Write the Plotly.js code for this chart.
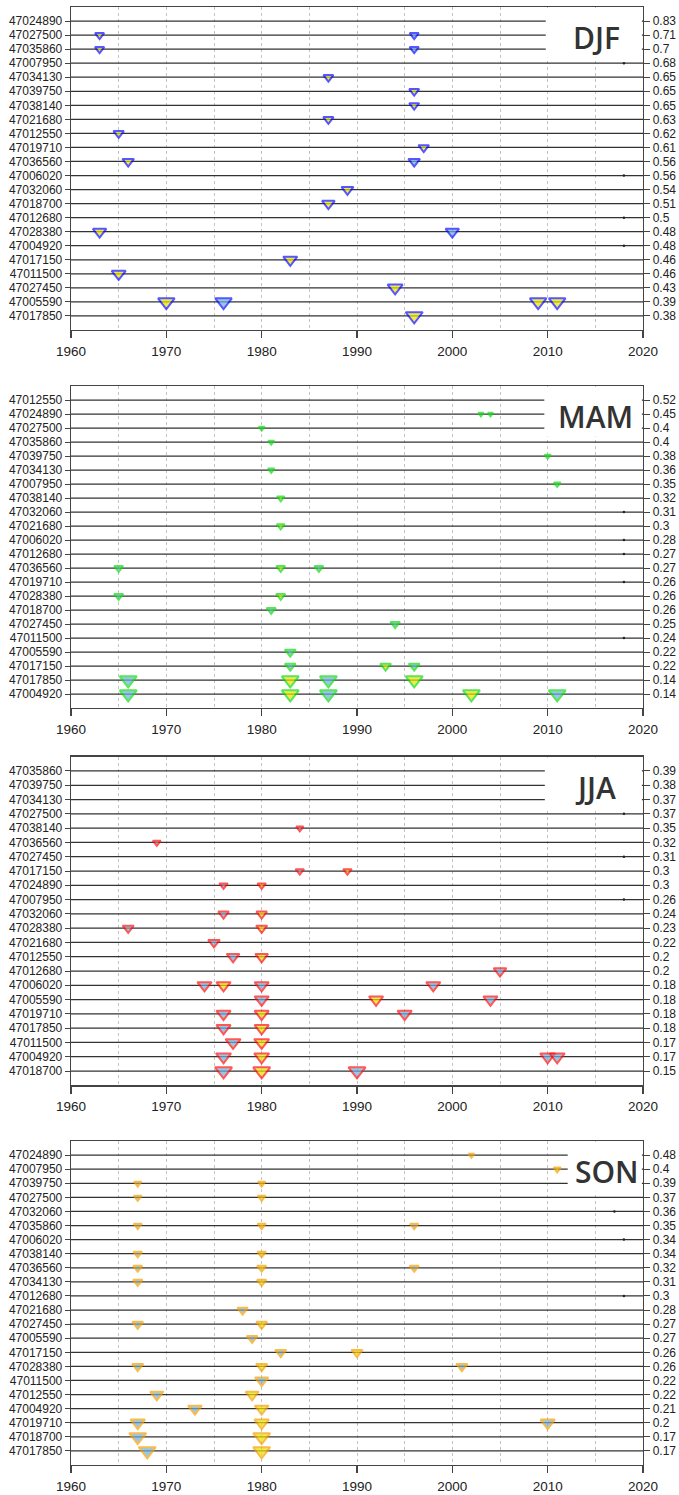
<!DOCTYPE html>
<html><head><meta charset="utf-8">
<script src="https://cdn.plot.ly/plotly-3.0.1.min.js"></script>
<style>html,body{margin:0;padding:0;background:#fff}#chart{width:679px;height:1495px}</style>
</head><body><div id="chart"></div>
<script>
// ---------------- DATA ----------------
const seasonNames = ['DJF', 'MAM', 'JJA', 'SON'];

// DJF
const djfStations = ['47024890','47027500','47035860','47007950','47034130','47039750','47038140','47021680','47012550','47019710','47036560','47006020','47032060','47018700','47012680','47028380','47004920','47017150','47011500','47027450','47005590','47017850'];
const djfValues = [0.83,0.71,0.7,0.68,0.65,0.65,0.65,0.63,0.62,0.61,0.56,0.56,0.54,0.51,0.5,0.48,0.48,0.46,0.46,0.43,0.39,0.38];
const djfBreakYears = [[],[1963,1996],[1963,1996],[],[1987],[1996],[1996],[1987],[1965],[1997],[1966,1996],[],[1989],[1987],[],[1963,2000],[],[1983],[1965],[1994],[1970,1976,2009,2011],[1996]];
const djfBreakTypes = [[],['u','d'],['u','d'],[],['u'],['u'],['u'],['u'],['u'],['u'],['u','d'],[],['u'],['u'],[],['u','d'],[],['u'],['u'],['u'],['u','d','u','u'],['u']];
const djfDotStations = ['47007950','47006020','47012680','47004920'];
const djfDotYears = [2018,2018,2018,2018];

// MAM
const mamStations = ['47012550','47024890','47027500','47035860','47039750','47034130','47007950','47038140','47032060','47021680','47006020','47012680','47036560','47019710','47028380','47018700','47027450','47011500','47005590','47017150','47017850','47004920'];
const mamValues = [0.52,0.45,0.4,0.4,0.38,0.36,0.35,0.32,0.31,0.3,0.28,0.27,0.27,0.26,0.26,0.26,0.25,0.24,0.22,0.22,0.14,0.14];
const mamBreakYears = [[],[2003,2004],[1980],[1981],[2010],[1981],[2011],[1982],[],[1982],[],[],[1965,1982,1986],[],[1965,1982],[1981],[1994],[],[1983],[1983,1993,1996],[1966,1983,1987,1996],[1966,1983,1987,2002,2011]];
const mamBreakTypes = [[],['d','d'],['d'],['d'],['d'],['d'],['d'],['u'],[],['u'],[],[],['d','u','d'],[],['d','u'],['d'],['d'],[],['d'],['d','u','d'],['d','u','d','u'],['d','u','d','u','d']];
const mamDotStations = ['47032060','47006020','47012680','47019710','47011500'];
const mamDotYears = [2018,2018,2018,2018,2018];

// JJA
const jjaStations = ['47035860','47039750','47034130','47027500','47038140','47036560','47027450','47017150','47024890','47007950','47032060','47028380','47021680','47012550','47012680','47006020','47005590','47019710','47017850','47011500','47004920','47018700'];
const jjaValues = [0.39,0.38,0.37,0.37,0.35,0.32,0.31,0.3,0.3,0.26,0.24,0.23,0.22,0.2,0.2,0.18,0.18,0.18,0.18,0.17,0.17,0.15];
const jjaBreakYears = [[],[],[],[],[1984],[1969],[],[1984,1989],[1976,1980],[],[1976,1980],[1966,1980],[1975],[1977,1980],[2005],[1974,1976,1980,1998],[1980,1992,2004],[1976,1980,1995],[1976,1980],[1977,1980],[1976,1980,2010,2011],[1976,1980,1990]];
const jjaBreakTypes = [[],[],[],[],['d'],['d'],[],['d','u'],['d','u'],[],['d','u'],['d','u'],['d'],['d','u'],['d'],['d','u','d','d'],['d','u','d'],['d','u','d'],['d','u'],['d','u'],['d','u','d','d'],['d','u','d']];
const jjaDotStations = ['47027500','47027450','47007950'];
const jjaDotYears = [2018,2018,2018];

// SON
const sonStations = ['47024890','47007950','47039750','47027500','47032060','47035860','47006020','47038140','47036560','47034130','47012680','47021680','47027450','47005590','47017150','47028380','47011500','47012550','47004920','47019710','47018700','47017850'];
const sonValues = [0.48,0.4,0.39,0.37,0.36,0.35,0.34,0.34,0.32,0.31,0.3,0.28,0.27,0.27,0.26,0.26,0.22,0.22,0.21,0.2,0.17,0.17];
const sonBreakYears = [[2002],[2011],[1967,1980],[1967,1980],[],[1967,1980,1996],[],[1967,1980],[1967,1980,1996],[1967,1980],[],[1978],[1967,1980],[1979],[1982,1990],[1967,1980,2001],[1980],[1969,1979],[1973,1980],[1967,1980,2010],[1967,1980],[1968,1980]];
const sonBreakTypes = [['d'],['u'],['d','u'],['d','u'],[],['d','u','d'],[],['d','u'],['d','u','d'],['d','u'],[],['d'],['d','u'],['d'],['d','u'],['d','u','d'],['d'],['d','u'],['d','u'],['d','u','d'],['d','u'],['d','u']];
const sonDotStations = ['47032060','47006020','47012680'];
const sonDotYears = [2017,2018,2018];

// ---------------- STYLE / LAYOUT ----------------
const panels = [
  {st: djfStations, val: djfValues, yrs: djfBreakYears, typ: djfBreakTypes, dSt: djfDotStations, dYr: djfDotYears},
  {st: mamStations, val: mamValues, yrs: mamBreakYears, typ: mamBreakTypes, dSt: mamDotStations, dYr: mamDotYears},
  {st: jjaStations, val: jjaValues, yrs: jjaBreakYears, typ: jjaBreakTypes, dSt: jjaDotStations, dYr: jjaDotYears},
  {st: sonStations, val: sonValues, yrs: sonBreakYears, typ: sonBreakTypes, dSt: sonDotStations, dYr: sonDotYears}
];
const edgeColors = ['#1010ff', '#10dd10', '#ff1010', '#f7a000'];
const fillUp = '#ebe300', fillDown = '#6cb0e0';
const W = 679, H = 1495, mt = 7, mb = 30, ml = 71, mr = 36;
const ph = H - mt - mb;
const topPx = [7, 386, 756.7, 1141];
const botPx = [330, 708, 1085.3, 1465];
const boxX0 = [2009.8, 2009.65, 2009.7, 2012.1];
const tickFont = {family: 'Liberation Sans, Arial, sans-serif', size: 12, color: '#222'};
const axisCol = '#444';

const traces = [];
const layout = {
  width: W, height: H, margin: {l: ml, r: mr, t: mt, b: mb},
  showlegend: false, paper_bgcolor: '#fff', plot_bgcolor: '#fff',
  shapes: [], annotations: []
};

panels.forEach((p, k) => {
  const n = p.st.length;
  const rows = p.st.map((_, i) => i + 1);
  const xa = 'x' + (k + 1), ya = 'y' + (2 * k + 1), yb = 'y' + (2 * k + 2);
  const xk = 'xaxis' + (k + 1), yak = 'yaxis' + (2 * k + 1), ybk = 'yaxis' + (2 * k + 2);
  const dom = [(H - mb - botPx[k]) / ph, (H - mb - topPx[k]) / ph];
  const vmin = Math.min(...p.val);

  layout[xk] = {
    domain: [0, 1], anchor: ya, range: [1960, 2020], tick0: 1960, dtick: 10,
    showgrid: true, gridcolor: '#c4c4c4', griddash: 'dot', gridwidth: 1,
    minor: {dtick: 5, tick0: 1960, showgrid: true, gridcolor: '#c4c4c4', griddash: 'dot', gridwidth: 1, ticks: ''},
    showline: true, mirror: true, linecolor: axisCol, linewidth: 1.3,
    ticks: 'outside', ticklen: 7, tickcolor: axisCol, tickwidth: 1.2,
    tickfont: {family: tickFont.family, size: 13.5, color: '#222'}, ticklabelstandoff: 1,
    zeroline: false, fixedrange: true
  };
  layout[yak] = {
    domain: dom, anchor: xa, range: [n + 1, 0],
    tickmode: 'array', tickvals: rows, ticktext: p.st,
    showgrid: false, zeroline: false, showline: true, linecolor: axisCol, linewidth: 1.3,
    ticks: 'outside', ticklen: 5, tickcolor: axisCol, tickfont: tickFont, fixedrange: true
  };
  layout[ybk] = {
    overlaying: ya, side: 'right', anchor: xa, range: [n + 1, 0],
    tickmode: 'array', tickvals: rows, ticktext: p.val.map(v => String(v)),
    showgrid: false, zeroline: false, showline: true, linecolor: axisCol, linewidth: 1.3,
    ticks: 'outside', ticklen: 6, tickcolor: axisCol, tickfont: tickFont, fixedrange: true
  };

  // horizontal station lines
  const lx = [], ly = [];
  rows.forEach(r => { lx.push(1960, 2020, null); ly.push(r, r, null); });
  traces.push({x: lx, y: ly, xaxis: xa, yaxis: ya, mode: 'lines', type: 'scatter',
    line: {color: '#333', width: 1.25}, hoverinfo: 'skip'});

  // tiny dots for stations without breaks
  traces.push({x: p.dYr, y: p.dSt.map(s => p.st.indexOf(s) + 1), xaxis: xa, yaxis: ya,
    mode: 'markers', type: 'scatter', marker: {size: 2.5, color: '#222'}, hoverinfo: 'skip'});

  // break-point triangles
  const mx = [], my = [], mc = [], ms = [];
  p.yrs.forEach((arr, i) => {
    arr.forEach((yr, j) => {
      mx.push(yr); my.push(i + 1);
      mc.push(p.typ[i][j] === 'u' ? fillUp : fillDown);
      ms.push(14.8 * vmin / p.val[i]);
    });
  });
  traces.push({x: mx, y: my, xaxis: xa, yaxis: yb, mode: 'markers', type: 'scatter',
    marker: {symbol: 'triangle-down', size: ms, color: mc, line: {color: edgeColors[k], width: 2}},
    hoverinfo: 'x+y'});

  // title box
  layout.shapes.push({type: 'rect', xref: xa, yref: ya, x0: boxX0[k], x1: 2019.88, y0: 0.07, y1: 3.6,
    fillcolor: '#ffffff', line: {width: 0}, layer: 'above'});
  layout.annotations.push({xref: xa, yref: ya, x: (boxX0[k] + 2020) / 2 + 0.2, y: 2.15,
    text: seasonNames[k], showarrow: false, xanchor: 'center', yanchor: 'middle',
    font: {family: 'Open Sans, sans-serif', size: 30, weight: 600, color: '#333'}});
});

Plotly.newPlot('chart', traces, layout, {displayModeBar: false, staticPlot: true});
</script>
</body></html>
